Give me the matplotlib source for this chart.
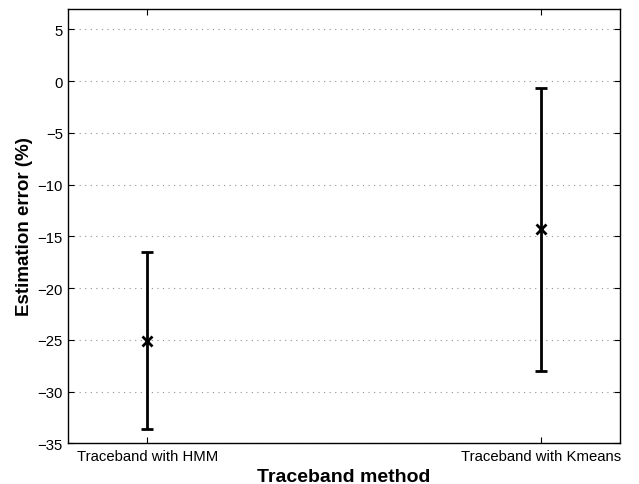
import matplotlib
matplotlib.use("Agg")
import matplotlib.pyplot as plt
import numpy as np

plt.rcParams['font.family'] = ['Liberation Sans', 'DejaVu Sans']

categories = ["Traceband with HMM", "Traceband with Kmeans"]
means = [-25.1, -14.3]
upper = [-16.5, -0.7]
lower = [-33.6, -28.0]

x = np.arange(1, len(categories) + 1)
m = np.array(means)
yerr = np.array([m - np.array(lower), np.array(upper) - m])

fig = plt.figure(figsize=(6.39, 4.85), dpi=100)
ax = fig.add_axes([0.107, 0.084, 0.863, 0.896])

ax.errorbar(x, m, yerr=yerr, fmt='x', color='black', ecolor='black',
            elinewidth=2, capsize=4, capthick=2, markersize=7, mew=2, zorder=3)

ax.set_xlim(0.8, 2.2)
ax.set_ylim(-35, 7)
ax.set_yticks(np.arange(-35, 6, 5))
ax.set_yticklabels([f"\u2212{abs(v)}" if v < 0 else str(v) for v in range(-35, 6, 5)])
ax.set_xticks(x)
ax.set_xticklabels(categories)
ax.yaxis.grid(True, linestyle=(0, (1, 4)), color='#909090', linewidth=0.8)
ax.tick_params(direction='in', top=True, right=True, labelsize=10.7, length=4, width=0.8, pad=4)
for s in ax.spines.values():
    s.set_linewidth(1.0)
ax.set_xlabel("Traceband method", fontsize=14, fontweight='bold', labelpad=4)
ax.set_ylabel("Estimation error (%)", fontsize=13.5, fontweight='bold', labelpad=3)

fig.savefig("out.png", dpi=100)
